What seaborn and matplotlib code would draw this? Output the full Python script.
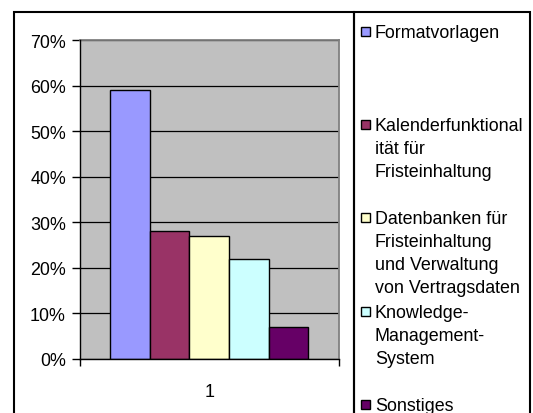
import matplotlib
matplotlib.use("Agg")
import matplotlib.pyplot as plt
from matplotlib.patches import Rectangle
from matplotlib.ticker import FixedLocator
import seaborn as sns
import pandas as pd

# ---- data ----
series = ["Formatvorlagen",
          "Kalenderfunktionalität für Fristeinhaltung",
          "Datenbanken für Fristeinhaltung und Verwaltung von Vertragsdaten",
          "Knowledge-Management-System",
          "Sonstiges"]
legend_labels = ["Formatvorlagen",
                 "Kalenderfunktional\nität für\nFristeinhaltung",
                 "Datenbanken für\nFristeinhaltung\nund Verwaltung\nvon Vertragsdaten",
                 "Knowledge-\nManagement-\nSystem",
                 "Sonstiges"]
values = [0.59, 0.28, 0.27, 0.22, 0.07]
group = ["1"] * 5
colors = ["#9999FF", "#993366", "#FFFFCC", "#CCFFFF", "#660066"]
yticks = [0.0, 0.1, 0.2, 0.3, 0.4, 0.5, 0.6, 0.7]
ytick_labels = ["0%", "10%", "20%", "30%", "40%", "50%", "60%", "70%"]

df = pd.DataFrame({"group": group, "series": series, "value": values})

plt.rcParams["font.family"] = ["Liberation Sans", "DejaVu Sans"]
FS = 12.9

W, H = 533, 414
fig = plt.figure(figsize=(W / 100, H / 100), dpi=100)

def fx(px):
    return px / W

def fy(py):
    return 1 - py / H

# outer frames
fig.patches.append(Rectangle((fx(14), -0.1), fx(354) - fx(14), fy(12.7) + 0.1,
                             transform=fig.transFigure, fill=False,
                             edgecolor="black", linewidth=1.5, zorder=0))
fig.patches.append(Rectangle((fx(353.5), -0.1), fx(530) - fx(353.5), fy(12.7) + 0.1,
                             transform=fig.transFigure, fill=False,
                             edgecolor="black", linewidth=1.5, zorder=0))

ax = fig.add_axes([fx(80), fy(360), fx(338.5) - fx(80), fy(41) - fy(360)])
ax.set_facecolor("#C0C0C0")

sns.barplot(data=df, x="group", y="value", hue="series", hue_order=series,
            palette=colors, saturation=1, width=0.766, gap=0, edgecolor="black",
            linewidth=1.0, errorbar=None, legend=False, ax=ax, zorder=3)

ax.set_xlim(-0.5, 0.5)
ax.set_ylim(0, 0.7)
ax.set_yticks(yticks)
ax.set_yticklabels(ytick_labels, fontsize=FS)
ax.yaxis.grid(True, color="black", linewidth=0.9, zorder=1)
ax.set_axisbelow(True)
ax.tick_params(axis="y", direction="out", length=5.8, width=1, pad=4.3, color="black")

ax.set_xticks([0])
ax.set_xticklabels(["1"], fontsize=FS)
ax.tick_params(axis="x", which="major", length=0, pad=17)
ax.xaxis.set_minor_locator(FixedLocator([-0.5, 0.5]))
ax.tick_params(axis="x", which="minor", direction="out", length=5, width=1, color="black")

ax.set_xlabel("")
ax.set_ylabel("")
for s in ["left", "bottom"]:
    ax.spines[s].set_color("black")
    ax.spines[s].set_linewidth(1.0)
    ax.spines[s].set_zorder(5)
for s in ["top", "right"]:
    ax.spines[s].set_color("#808080")
    ax.spines[s].set_linewidth(1.3)

# legend (manual, Excel-style: marker aligned with first line)
centers = [32, 125, 218, 312, 405]
for lab, col, cy in zip(legend_labels, colors, centers):
    fig.patches.append(Rectangle((fx(361), fy(cy + 4.5)), fx(370) - fx(361),
                                 fy(cy - 4.5) - fy(cy + 4.5),
                                 transform=fig.transFigure, facecolor=col,
                                 edgecolor="black", linewidth=1.0))
    fig.text(fx(375), fy(cy - 6.8), lab, fontsize=FS, ha="left", va="top",
             linespacing=1.46)

fig.savefig("out.png", dpi=100)
